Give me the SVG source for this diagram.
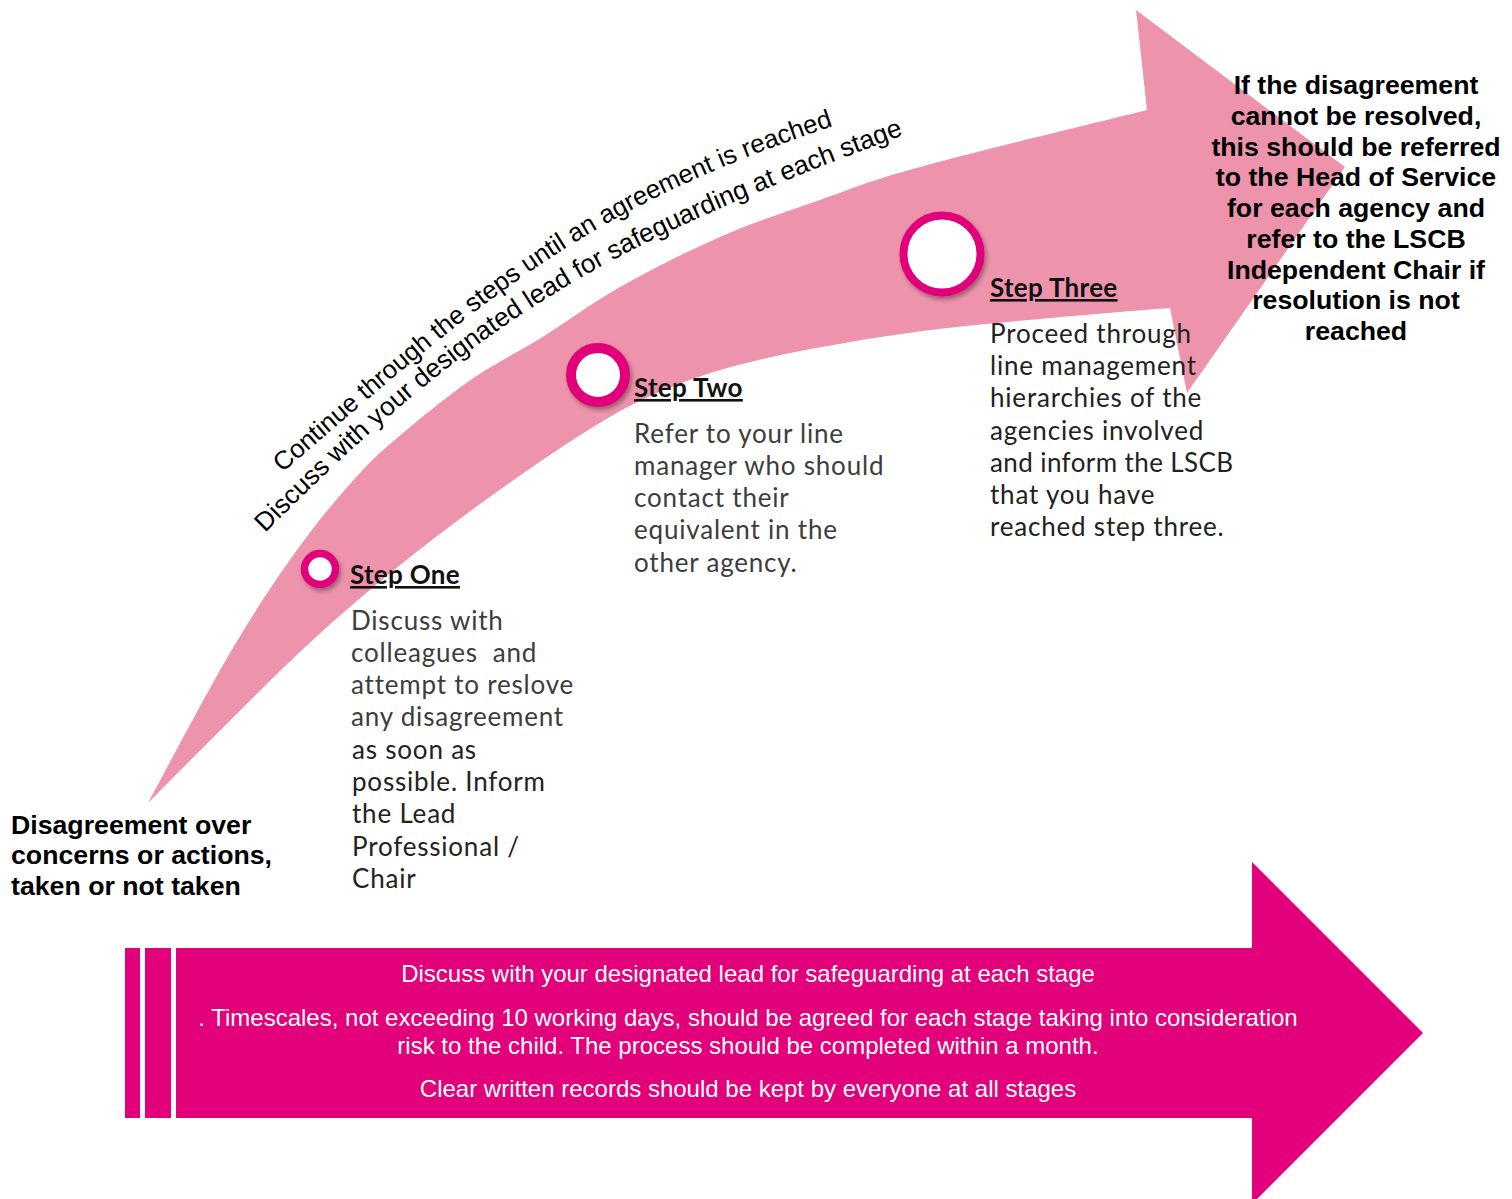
<svg xmlns="http://www.w3.org/2000/svg" width="1512" height="1199" viewBox="0 0 1512 1199">
  <style>
    .curve-label { font-family: "Liberation Sans", Arial, sans-serif; font-size: 26.3px; fill: #000; }
    .bold { font-family: "Liberation Sans", Arial, sans-serif; font-weight: bold; font-size: 26.7px; fill: #000; }
    .head { font-family: Lato, "Open Sans", sans-serif; font-weight: bold; font-size: 26px; letter-spacing: 0.3px; fill: #111; text-decoration: underline; }
    .body { font-family: Lato, "Open Sans", sans-serif; font-size: 26px; letter-spacing: 0.8px; fill: #222; }
    .gray { fill: #3d3d3d; }
    .white { font-family: "Liberation Sans", Arial, sans-serif; font-size: 24px; fill: #fff; }
    .ring { fill: #fff; stroke: #E2007A; filter: url(#shadow); }
  </style>
  <defs>
    <filter id="shadow" x="-30%" y="-30%" width="170%" height="170%">
      <feDropShadow dx="2" dy="3" stdDeviation="2" flood-color="#000" flood-opacity="0.35"/>
    </filter>
    <path id="arc1" d="M 282,473 C 494,290 588,206 848,121"/>
    <path id="arc2" d="M 265,533 C 491,307 610,244 925,127"/>
  </defs>

  <rect width="1512" height="1199" fill="#fff"/>

  <g id="curved-arrow">
    <path fill="#ED93AC" d="M148,803 C161.7,778 205.2,695.2 230,653 C254.8,610.8 275.5,579.8 297,550 C318.5,520.2 340.3,494.3 359,474 C377.7,453.7 389.7,444.2 409,428 C428.3,411.8 453,392 475,377 C497,362 516.8,353 541,338 C565.2,323 590.2,303.8 620,287 C649.8,270.2 686.7,251.5 720,237 C753.3,222.5 786.7,211.7 820,200 C853.3,188.3 865.5,182 920,167 C974.5,152 1109.2,119.5 1147,110 L1136,10 L1345,167 L1187,393 L1170,308 Q983,323 925.5,330.5 Q868,338 810.5,349 Q753,360 715,371.5 Q677,383 638.5,401.5 Q600,420 526.5,471 Q453,522 391.5,572 Q330,622 280,671 Q230,720 148,803 Z"/>
  </g>

  <g id="curve-labels">
    <text class="curve-label" style="font-size:25.8px"><textPath href="#arc1">Continue through the steps until an agreement is reached</textPath></text>
    <text class="curve-label"><textPath href="#arc2">Discuss with your designated lead for safeguarding at each stage</textPath></text>
  </g>

  <g id="start">
    <text class="bold" x="11" y="834">Disagreement over</text>
    <text class="bold" x="11" y="864">concerns or actions,</text>
    <text class="bold" x="11" y="895">taken or not taken</text>
  </g>

  <g id="step-one">
    <circle class="ring" cx="320" cy="569" r="15.5" stroke-width="7.5"/>
    <text class="head" x="350" y="584">Step One</text>
    <text class="body gray" x="351" y="630">Discuss with</text>
    <text class="body gray" x="351" y="662" xml:space="preserve">colleagues  and</text>
    <text class="body gray" x="351" y="694">attempt to reslove</text>
    <text class="body gray" x="351" y="726">any disagreement</text>
    <text class="body" x="352" y="759">as soon as</text>
    <text class="body" x="352" y="791">possible. Inform</text>
    <text class="body" x="352" y="823">the Lead</text>
    <text class="body" x="352" y="856">Professional /</text>
    <text class="body" x="352" y="888">Chair</text>
  </g>

  <g id="step-two">
    <circle class="ring" cx="598" cy="375" r="27" stroke-width="10"/>
    <text class="head" x="634" y="397">Step Two</text>
    <text class="body gray" x="634" y="443">Refer to your line</text>
    <text class="body gray" x="634" y="475">manager who should</text>
    <text class="body gray" x="634" y="507">contact their</text>
    <text class="body gray" x="634" y="539">equivalent in the</text>
    <text class="body gray" x="634" y="572">other agency.</text>
  </g>

  <g id="step-three">
    <circle class="ring" cx="942" cy="254" r="38.5" stroke-width="8"/>
    <text class="head" x="990" y="297">Step Three</text>
    <text class="body" x="990" y="343">Proceed through</text>
    <text class="body" x="990" y="375">line management</text>
    <text class="body" x="990" y="407">hierarchies of the</text>
    <text class="body" x="990" y="440">agencies involved</text>
    <text class="body" x="990" y="472" style="letter-spacing:0.4px">and inform the LSCB</text>
    <text class="body" x="990" y="504">that you have</text>
    <text class="body" x="990" y="536">reached step three.</text>
  </g>

  <g id="escalation" text-anchor="middle">
    <text class="bold" x="1356" y="94">If the disagreement</text>
    <text class="bold" x="1356" y="125">cannot be resolved,</text>
    <text class="bold" x="1356" y="156">this should be referred</text>
    <text class="bold" x="1356" y="186">to the Head of Service</text>
    <text class="bold" x="1356" y="217">for each agency and</text>
    <text class="bold" x="1356" y="248">refer to the LSCB</text>
    <text class="bold" x="1356" y="279">Independent Chair if</text>
    <text class="bold" x="1356" y="309">resolution is not</text>
    <text class="bold" x="1356" y="340">reached</text>
  </g>

  <g id="bottom-arrow">
    <rect x="125" y="948" width="15" height="170" fill="#E3007B"/>
    <rect x="145" y="948" width="26" height="170" fill="#E3007B"/>
    <path fill="#E3007B" d="M176,948 L1252,948 L1252,862 L1423,1033 L1252,1204 L1252,1118 L176,1118 Z"/>
    <g text-anchor="middle">
      <text class="white" x="748" y="982">Discuss with your designated lead for safeguarding at each stage</text>
      <text class="white" x="748" y="1026">. Timescales, not exceeding 10 working days, should be agreed for each stage taking into consideration</text>
      <text class="white" x="748" y="1054">risk to the child. The process should be completed within a month.</text>
      <text class="white" x="748" y="1097">Clear written records should be kept by everyone at all stages</text>
    </g>
  </g>
</svg>
